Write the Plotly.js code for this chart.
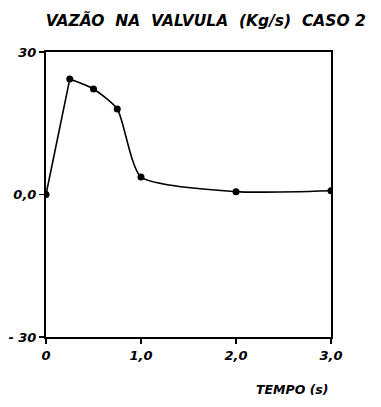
<!DOCTYPE html>
<html>
<head>
<meta charset="utf-8">
<script src="https://cdn.plot.ly/plotly-3.0.1.min.js"></script>
<style>html,body{margin:0;padding:0;background:#fff;}#chart{width:381px;height:407px;}</style>
</head>
<body>
<div id="chart"></div>
<script>
const tempo = [0, 0.25, 0.5, 0.75, 1.0, 2.0, 3.0];
const vazao = [0, 24.3, 22.2, 18.0, 3.7, 0.6, 0.8];
const xTickVals = [0, 1, 2, 3];
const xTickText = ['0', '1,0', '2,0', '3,0'];
const yTickVals = [-30, 0, 30];
const yTickText = ['- 30', '0,0', '30'];
const titleText = 'VAZÃO  NA  VALVULA  (Kg/s)  CASO 2';
const xTitleText = 'TEMPO (s)';

const fnt = {family: 'DejaVu Sans', size: 13, color: '#000', style: 'italic', weight: 'bold'};

const traces = [
  {x: tempo.slice(0, 2), y: vazao.slice(0, 2), mode: 'lines', line: {color: '#000', width: 1.6}, hoverinfo: 'skip'},
  {x: tempo.slice(1), y: vazao.slice(1), mode: 'lines', line: {color: '#000', width: 1.6, shape: 'spline', smoothing: 0.6}, hoverinfo: 'skip'},
  {x: tempo, y: vazao, mode: 'markers', marker: {color: '#000', size: 7}, hoverinfo: 'skip'}
];

const layout = {
  width: 381, height: 407,
  margin: {l: 46, r: 50, t: 52, b: 70},
  paper_bgcolor: '#fff', plot_bgcolor: '#fff',
  showlegend: false,
  title: {text: titleText, font: Object.assign({}, fnt, {size: 15.5}), xref: 'container', yref: 'container', x: 0.54, y: 0.95, xanchor: 'center', yanchor: 'middle'},
  xaxis: {range: [0, 3], tickvals: xTickVals, ticktext: xTickText, ticks: 'outside', ticklen: 5, tickwidth: 1.5, tickcolor: '#000',
          showline: true, linecolor: '#000', linewidth: 2, mirror: true, showgrid: false, zeroline: false, tickfont: fnt, fixedrange: true},
  yaxis: {range: [-30, 30], tickvals: yTickVals, ticktext: yTickText, ticks: 'outside', ticklen: 5, tickwidth: 1.5, tickcolor: '#000',
          showline: true, linecolor: '#000', linewidth: 2, mirror: true, showgrid: false, zeroline: false, tickfont: fnt, fixedrange: true},
  annotations: [
    {text: xTitleText, xref: 'paper', yref: 'paper', x: 0.865, y: -0.185, showarrow: false, font: Object.assign({}, fnt, {size: 12.5}), xanchor: 'center', yanchor: 'middle'}
  ]
};

Plotly.newPlot('chart', traces, layout, {staticPlot: true, displayModeBar: false});
</script>
</body>
</html>
